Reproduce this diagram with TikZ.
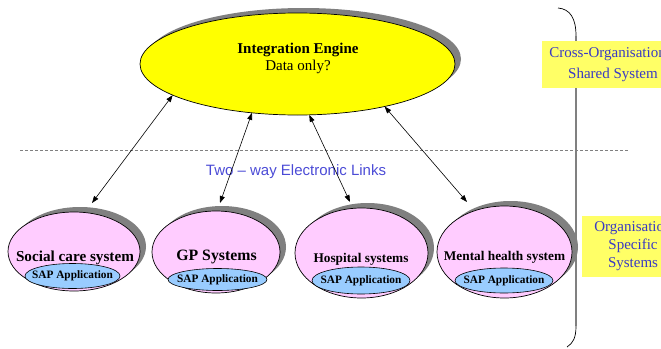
\documentclass[tikz,border=0pt]{standalone}
\usepackage{fontspec}
\setmainfont{Liberation Serif}
\newfontfamily\arialfont{Liberation Sans}
\usetikzlibrary{shapes.geometric,arrows.meta,shadows}

\definecolor{engineyellow}{HTML}{FFFF00}
\definecolor{syspink}{HTML}{FFCCFF}
\definecolor{sapblue}{HTML}{99CCFF}
\definecolor{tagyellow}{HTML}{FFFF66}
\definecolor{labelblue}{HTML}{3A3AC4}
\definecolor{linkblue}{HTML}{4B4BD6}
\definecolor{shadowgray}{HTML}{808080}

\begin{document}
\begin{tikzpicture}[x=1pt,y=-1pt,
  oval/.style={ellipse, draw=black, line width=0.7pt, inner sep=0pt, outer sep=0pt},
  shadowed/.style={drop shadow={shadow xshift=6pt, shadow yshift=5pt, fill=shadowgray, opacity=1}},
  sysoval/.style={oval, fill=syspink, shadowed},
  sapoval/.style={oval, fill=sapblue, line width=0.6pt},
  saptext/.style={inner sep=0pt, font=\fontsize{11.3}{13}\selectfont\bfseries},
  systitle/.style={anchor=base, font=\fontsize{#1}{16}\selectfont\bfseries},
  enginetext/.style={anchor=base, font=\fontsize{15}{18}\selectfont},
  link/.style={{Triangle[length=7pt,width=5pt]}-{Triangle[length=7pt,width=5pt]}, line width=0.6pt},
  tagbox/.style={rectangle, fill=tagyellow, inner sep=0pt, align=center, text=labelblue}
]
\useasboundingbox (0,0) rectangle (661,348);
\clip (0,0) rectangle (661,348);

% shared integration engine
\node[oval, fill=engineyellow, minimum width=315pt, minimum height=102pt, shadowed] (eng) at (297.5,64) {};
\node[enginetext, font=\fontsize{15}{18}\selectfont\bfseries] (engtitle) at (298,53) {Integration Engine};
\node[enginetext] (engnote) at (298,70) {Data only?};

% boundary between shared and local systems
\coordinate (dashl) at (20,150);
\coordinate (dashr) at (628,150);
\draw[shadowgray, line width=0.6pt, dash pattern=on 3pt off 2pt] (dashl) -- (dashr);

\node[font=\arialfont\fontsize{15}{18}\selectfont, text=linkblue] (linkcaption) at (296,172) {Two – way Electronic Links};

% organisation specific systems
\node[sysoval, minimum width=132pt, minimum height=79pt] (social) at (74,251.5) {};
\node[systitle=15.2] (socialtitle) at (75,261) {Social care system};
\node[sapoval, minimum width=95pt, minimum height=25pt] (socialsap) at (72.5,276) {};
\node[saptext] (socialsaptext) at (socialsap) {SAP Application};

\node[sysoval, minimum width=128pt, minimum height=82pt] (gp) at (216,252) {};
\node[systitle=15.8] (gptitle) at (216.5,260) {GP Systems};
\node[sapoval, minimum width=99pt, minimum height=22pt] (gpsap) at (217.5,279.5) {};
\node[saptext] (gpsaptext) at (gpsap) {SAP Application};

\node[sysoval, minimum width=133pt, minimum height=90pt] (hosp) at (361.5,253) {};
\node[systitle=13.3] (hosptitle) at (361,262) {Hospital systems};
\node[sapoval, minimum width=98pt, minimum height=27pt] (hospsap) at (361,280.5) {};
\node[saptext] (hospsaptext) at (hospsap) {SAP Application};

\node[sysoval, minimum width=135pt, minimum height=92pt] (mental) at (504.5,252) {};
\node[systitle=13.3] (mentaltitle) at (504.5,260) {Mental health system};
\node[sapoval, minimum width=98pt, minimum height=25pt] (mentalsap) at (504,280.5) {};
\node[saptext] (mentalsaptext) at (mentalsap) {SAP Application};

% two-way links
\coordinate (socialin) at (92,203);
\coordinate (gpin) at (220,203);
\coordinate (hospin) at (350,202);
\coordinate (mentalin) at (467,202);
\draw[link] (eng.194.4) -- (socialin);
\draw[link] (eng.227.2) -- (gpin);
\draw[link] (eng.283) -- (hospin);
\draw[link] (eng.334.8) -- (mentalin);

% bracket on the right
\draw[black, line width=0.7pt] (558,8) .. controls (570,9) and (576,18) .. (576,36);
\draw[shadowgray, line width=1.4pt] (576,36) -- (576,326);
\draw[black, line width=0.7pt] (576,326) .. controls (576,338) and (573,343) .. (567,347);

% scope labels
\node[tagbox, minimum width=142pt, minimum height=47pt, font=\fontsize{15}{21}\selectfont] (tagshared) at (613,64.5) {Cross-Organisational\\Shared System};
\node[tagbox, minimum width=102pt, minimum height=61pt, font=\fontsize{15}{18}\selectfont] (taglocal) at (633,246.5) {Organisation\\Specific\\Systems};
\end{tikzpicture}
\end{document}
